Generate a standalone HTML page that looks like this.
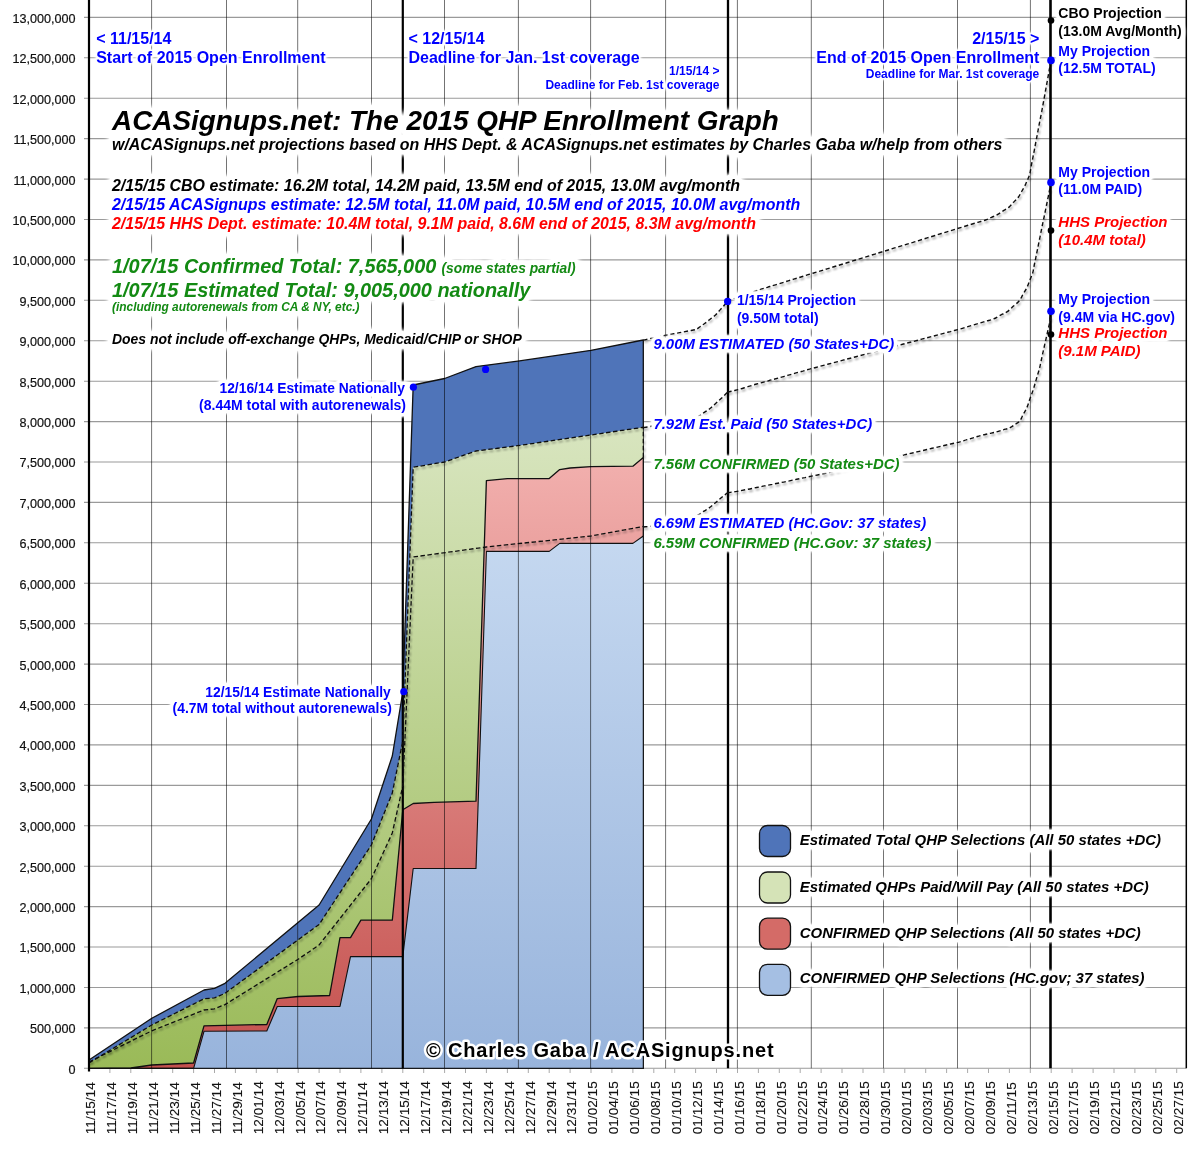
<!DOCTYPE html>
<html><head><meta charset="utf-8"><style>
html,body{margin:0;padding:0;background:#fff;width:1200px;height:1150px;overflow:hidden}
svg{display:block;will-change:transform;font-family:"Liberation Sans",sans-serif}
</style></head><body>
<svg width="1200" height="1150" viewBox="0 0 1200 1150">
<defs>
<linearGradient id="gGreen" gradientUnits="userSpaceOnUse" x1="0" y1="427" x2="0" y2="1068"><stop offset="0" stop-color="#d8e5bf"/><stop offset="1" stop-color="#9aba58"/></linearGradient>
<linearGradient id="gRed" gradientUnits="userSpaceOnUse" x1="0" y1="457" x2="0" y2="1068"><stop offset="0" stop-color="#f2b0ae"/><stop offset="1" stop-color="#c4504d"/></linearGradient>
<linearGradient id="gLBlue" gradientUnits="userSpaceOnUse" x1="0" y1="536" x2="0" y2="1068"><stop offset="0" stop-color="#c5d8f0"/><stop offset="1" stop-color="#98b4dc"/></linearGradient>
<filter id="glowL" x="-3%" y="-10%" width="106%" height="120%"><feGaussianBlur in="SourceAlpha" stdDeviation="2.5" result="b"/><feComponentTransfer in="b" result="a"><feFuncA type="linear" slope="2.0" intercept="0"/></feComponentTransfer><feFlood flood-color="#fff"/><feComposite in2="a" operator="in"/></filter>
<filter id="glowS" x="-3%" y="-20%" width="106%" height="140%"><feGaussianBlur in="SourceAlpha" stdDeviation="1.8" result="b"/><feComponentTransfer in="b" result="a"><feFuncA type="linear" slope="1.9" intercept="0"/></feComponentTransfer><feFlood flood-color="#fff"/><feComposite in2="a" operator="in"/></filter>
<filter id="shadow" x="-5%" y="-5%" width="110%" height="110%"><feGaussianBlur in="SourceAlpha" stdDeviation="1.3" result="b"/><feOffset in="b" dx="1" dy="2" result="o"/><feComponentTransfer in="o" result="oa"><feFuncA type="linear" slope="0.45"/></feComponentTransfer><feMerge><feMergeNode in="oa"/><feMergeNode in="SourceGraphic"/></feMerge></filter>
</defs>
<rect x="0" y="0" width="1200" height="1150" fill="#fff"/>
<line x1="84" y1="1027.9" x2="1186.5" y2="1027.9" stroke="#9a9a9a" stroke-width="1.1"/>
<line x1="84" y1="987.5" x2="1186.5" y2="987.5" stroke="#9a9a9a" stroke-width="1.1"/>
<line x1="84" y1="947" x2="1186.5" y2="947" stroke="#9a9a9a" stroke-width="1.1"/>
<line x1="84" y1="906.6" x2="1186.5" y2="906.6" stroke="#9a9a9a" stroke-width="1.1"/>
<line x1="84" y1="866.2" x2="1186.5" y2="866.2" stroke="#9a9a9a" stroke-width="1.1"/>
<line x1="84" y1="825.8" x2="1186.5" y2="825.8" stroke="#9a9a9a" stroke-width="1.1"/>
<line x1="84" y1="785.4" x2="1186.5" y2="785.4" stroke="#9a9a9a" stroke-width="1.1"/>
<line x1="84" y1="744.9" x2="1186.5" y2="744.9" stroke="#9a9a9a" stroke-width="1.1"/>
<line x1="84" y1="704.5" x2="1186.5" y2="704.5" stroke="#9a9a9a" stroke-width="1.1"/>
<line x1="84" y1="664.1" x2="1186.5" y2="664.1" stroke="#9a9a9a" stroke-width="1.1"/>
<line x1="84" y1="623.7" x2="1186.5" y2="623.7" stroke="#9a9a9a" stroke-width="1.1"/>
<line x1="84" y1="583.3" x2="1186.5" y2="583.3" stroke="#9a9a9a" stroke-width="1.1"/>
<line x1="84" y1="542.8" x2="1186.5" y2="542.8" stroke="#9a9a9a" stroke-width="1.1"/>
<line x1="84" y1="502.4" x2="1186.5" y2="502.4" stroke="#9a9a9a" stroke-width="1.1"/>
<line x1="84" y1="462" x2="1186.5" y2="462" stroke="#9a9a9a" stroke-width="1.1"/>
<line x1="84" y1="421.6" x2="1186.5" y2="421.6" stroke="#9a9a9a" stroke-width="1.1"/>
<line x1="84" y1="381.2" x2="1186.5" y2="381.2" stroke="#9a9a9a" stroke-width="1.1"/>
<line x1="84" y1="340.7" x2="1186.5" y2="340.7" stroke="#9a9a9a" stroke-width="1.1"/>
<line x1="84" y1="300.3" x2="1186.5" y2="300.3" stroke="#9a9a9a" stroke-width="1.1"/>
<line x1="84" y1="259.9" x2="1186.5" y2="259.9" stroke="#9a9a9a" stroke-width="1.1"/>
<line x1="84" y1="219.5" x2="1186.5" y2="219.5" stroke="#9a9a9a" stroke-width="1.1"/>
<line x1="84" y1="179.1" x2="1186.5" y2="179.1" stroke="#9a9a9a" stroke-width="1.1"/>
<line x1="84" y1="138.6" x2="1186.5" y2="138.6" stroke="#9a9a9a" stroke-width="1.1"/>
<line x1="84" y1="98.2" x2="1186.5" y2="98.2" stroke="#9a9a9a" stroke-width="1.1"/>
<line x1="84" y1="57.8" x2="1186.5" y2="57.8" stroke="#9a9a9a" stroke-width="1.1"/>
<line x1="84" y1="17.4" x2="1186.5" y2="17.4" stroke="#9a9a9a" stroke-width="1.1"/>
<line x1="84" y1="1068.3" x2="1186.3" y2="1068.3" stroke="#9a9a9a" stroke-width="1.1"/>
<line x1="109.9" y1="1068.3" x2="109.9" y2="1073" stroke="#aaa" stroke-width="1"/>
<line x1="130.8" y1="1068.3" x2="130.8" y2="1073" stroke="#aaa" stroke-width="1"/>
<line x1="151.8" y1="1068.3" x2="151.8" y2="1073" stroke="#aaa" stroke-width="1"/>
<line x1="172.7" y1="1068.3" x2="172.7" y2="1073" stroke="#aaa" stroke-width="1"/>
<line x1="193.6" y1="1068.3" x2="193.6" y2="1073" stroke="#aaa" stroke-width="1"/>
<line x1="214.5" y1="1068.3" x2="214.5" y2="1073" stroke="#aaa" stroke-width="1"/>
<line x1="235.4" y1="1068.3" x2="235.4" y2="1073" stroke="#aaa" stroke-width="1"/>
<line x1="256.3" y1="1068.3" x2="256.3" y2="1073" stroke="#aaa" stroke-width="1"/>
<line x1="277.3" y1="1068.3" x2="277.3" y2="1073" stroke="#aaa" stroke-width="1"/>
<line x1="298.2" y1="1068.3" x2="298.2" y2="1073" stroke="#aaa" stroke-width="1"/>
<line x1="319.1" y1="1068.3" x2="319.1" y2="1073" stroke="#aaa" stroke-width="1"/>
<line x1="340" y1="1068.3" x2="340" y2="1073" stroke="#aaa" stroke-width="1"/>
<line x1="360.9" y1="1068.3" x2="360.9" y2="1073" stroke="#aaa" stroke-width="1"/>
<line x1="381.9" y1="1068.3" x2="381.9" y2="1073" stroke="#aaa" stroke-width="1"/>
<line x1="402.8" y1="1068.3" x2="402.8" y2="1073" stroke="#aaa" stroke-width="1"/>
<line x1="423.7" y1="1068.3" x2="423.7" y2="1073" stroke="#aaa" stroke-width="1"/>
<line x1="444.6" y1="1068.3" x2="444.6" y2="1073" stroke="#aaa" stroke-width="1"/>
<line x1="465.5" y1="1068.3" x2="465.5" y2="1073" stroke="#aaa" stroke-width="1"/>
<line x1="486.4" y1="1068.3" x2="486.4" y2="1073" stroke="#aaa" stroke-width="1"/>
<line x1="507.4" y1="1068.3" x2="507.4" y2="1073" stroke="#aaa" stroke-width="1"/>
<line x1="528.3" y1="1068.3" x2="528.3" y2="1073" stroke="#aaa" stroke-width="1"/>
<line x1="549.2" y1="1068.3" x2="549.2" y2="1073" stroke="#aaa" stroke-width="1"/>
<line x1="570.1" y1="1068.3" x2="570.1" y2="1073" stroke="#aaa" stroke-width="1"/>
<line x1="591" y1="1068.3" x2="591" y2="1073" stroke="#aaa" stroke-width="1"/>
<line x1="611.9" y1="1068.3" x2="611.9" y2="1073" stroke="#aaa" stroke-width="1"/>
<line x1="632.9" y1="1068.3" x2="632.9" y2="1073" stroke="#aaa" stroke-width="1"/>
<line x1="653.8" y1="1068.3" x2="653.8" y2="1073" stroke="#aaa" stroke-width="1"/>
<line x1="674.7" y1="1068.3" x2="674.7" y2="1073" stroke="#aaa" stroke-width="1"/>
<line x1="695.6" y1="1068.3" x2="695.6" y2="1073" stroke="#aaa" stroke-width="1"/>
<line x1="716.5" y1="1068.3" x2="716.5" y2="1073" stroke="#aaa" stroke-width="1"/>
<line x1="737.5" y1="1068.3" x2="737.5" y2="1073" stroke="#aaa" stroke-width="1"/>
<line x1="758.4" y1="1068.3" x2="758.4" y2="1073" stroke="#aaa" stroke-width="1"/>
<line x1="779.3" y1="1068.3" x2="779.3" y2="1073" stroke="#aaa" stroke-width="1"/>
<line x1="800.2" y1="1068.3" x2="800.2" y2="1073" stroke="#aaa" stroke-width="1"/>
<line x1="821.1" y1="1068.3" x2="821.1" y2="1073" stroke="#aaa" stroke-width="1"/>
<line x1="842" y1="1068.3" x2="842" y2="1073" stroke="#aaa" stroke-width="1"/>
<line x1="863" y1="1068.3" x2="863" y2="1073" stroke="#aaa" stroke-width="1"/>
<line x1="883.9" y1="1068.3" x2="883.9" y2="1073" stroke="#aaa" stroke-width="1"/>
<line x1="904.8" y1="1068.3" x2="904.8" y2="1073" stroke="#aaa" stroke-width="1"/>
<line x1="925.7" y1="1068.3" x2="925.7" y2="1073" stroke="#aaa" stroke-width="1"/>
<line x1="946.6" y1="1068.3" x2="946.6" y2="1073" stroke="#aaa" stroke-width="1"/>
<line x1="967.6" y1="1068.3" x2="967.6" y2="1073" stroke="#aaa" stroke-width="1"/>
<line x1="988.5" y1="1068.3" x2="988.5" y2="1073" stroke="#aaa" stroke-width="1"/>
<line x1="1009.4" y1="1068.3" x2="1009.4" y2="1073" stroke="#aaa" stroke-width="1"/>
<line x1="1030.3" y1="1068.3" x2="1030.3" y2="1073" stroke="#aaa" stroke-width="1"/>
<line x1="1051.2" y1="1068.3" x2="1051.2" y2="1073" stroke="#aaa" stroke-width="1"/>
<line x1="1072.1" y1="1068.3" x2="1072.1" y2="1073" stroke="#aaa" stroke-width="1"/>
<line x1="1093.1" y1="1068.3" x2="1093.1" y2="1073" stroke="#aaa" stroke-width="1"/>
<line x1="1114" y1="1068.3" x2="1114" y2="1073" stroke="#aaa" stroke-width="1"/>
<line x1="1134.9" y1="1068.3" x2="1134.9" y2="1073" stroke="#aaa" stroke-width="1"/>
<line x1="1155.8" y1="1068.3" x2="1155.8" y2="1073" stroke="#aaa" stroke-width="1"/>
<line x1="1176.7" y1="1068.3" x2="1176.7" y2="1073" stroke="#aaa" stroke-width="1"/>
<polygon points="89,1060 151.8,1018.3 204,990 214.5,988.3 225,983.3 319.1,905 371.4,819 392.3,756 402.8,692 413.2,385 444.6,378.5 476,366.6 517.8,361.2 591,350.3 643.3,340 643.3,1068.3 89,1068.3" fill="#4f74b9" stroke="#111" stroke-width="1.3" stroke-linejoin="round"/>
<polygon points="89,1063 151.8,1025 204,998.8 214.5,997.9 225,993.3 319.1,924.5 371.4,845 392.3,793 402.8,741 413.2,467.3 444.6,462 476,451 517.8,445.7 643.3,427.3 643.3,1068.3 89,1068.3" fill="url(#gGreen)"/>
<polygon points="89,1068.3 130.8,1068 151.8,1065 172.7,1064 193.6,1063 204,1025.8 266.8,1024.5 277.3,998.6 298.2,996.5 329.6,995.5 340,937.6 350.5,937.6 360.9,920.2 392.3,920.2 402.8,809.7 413.2,803.5 434.1,802.4 476,801.2 486.4,480.6 507.4,478.6 549.2,478.6 559.7,469.6 570.1,468 591,466.6 632.9,466.2 643.3,457.6 643.3,1068.3 89,1068.3" fill="url(#gRed)" stroke="#111" stroke-width="1.3" stroke-linejoin="round"/>
<polygon points="89,1068.3 193.6,1068.3 204,1031.3 266.8,1031 277.3,1006.5 340,1006.4 350.5,956.6 402.8,956.6 413.2,868.5 476,868.5 486.4,551.4 549.2,551.4 559.7,543.4 632.9,543.4 643.3,536 643.3,1068.3 89,1068.3" fill="url(#gLBlue)" stroke="#111" stroke-width="1.1" stroke-linejoin="round"/>
<line x1="151.6" y1="0" x2="151.6" y2="1068.3" stroke="#000" stroke-opacity="0.55" stroke-width="1"/>
<line x1="226.5" y1="0" x2="226.5" y2="1068.3" stroke="#000" stroke-opacity="0.55" stroke-width="1"/>
<line x1="297.7" y1="0" x2="297.7" y2="1068.3" stroke="#000" stroke-opacity="0.55" stroke-width="1"/>
<line x1="371.5" y1="0" x2="371.5" y2="1068.3" stroke="#000" stroke-opacity="0.55" stroke-width="1"/>
<line x1="444.5" y1="0" x2="444.5" y2="1068.3" stroke="#000" stroke-opacity="0.55" stroke-width="1"/>
<line x1="518.4" y1="0" x2="518.4" y2="1068.3" stroke="#000" stroke-opacity="0.55" stroke-width="1"/>
<line x1="590.6" y1="0" x2="590.6" y2="1068.3" stroke="#000" stroke-opacity="0.55" stroke-width="1"/>
<line x1="665.6" y1="0" x2="665.6" y2="1068.3" stroke="#000" stroke-opacity="0.55" stroke-width="1"/>
<line x1="737.4" y1="0" x2="737.4" y2="1068.3" stroke="#000" stroke-opacity="0.55" stroke-width="1"/>
<line x1="811.3" y1="0" x2="811.3" y2="1068.3" stroke="#000" stroke-opacity="0.55" stroke-width="1"/>
<line x1="883.5" y1="0" x2="883.5" y2="1068.3" stroke="#000" stroke-opacity="0.55" stroke-width="1"/>
<line x1="957.5" y1="0" x2="957.5" y2="1068.3" stroke="#000" stroke-opacity="0.55" stroke-width="1"/>
<line x1="1030.4" y1="0" x2="1030.4" y2="1068.3" stroke="#000" stroke-opacity="0.55" stroke-width="1"/>
<line x1="1186.3" y1="0" x2="1186.3" y2="1068.3" stroke="#000" stroke-width="1.5"/>
<line x1="402.8" y1="0" x2="402.8" y2="1068.3" stroke="#000" stroke-width="2.2"/>
<line x1="728" y1="0" x2="728" y2="1068.3" stroke="#000" stroke-width="2.3"/>
<line x1="1050.5" y1="0" x2="1050.5" y2="1068.3" stroke="#000" stroke-width="2.6"/>
<g filter="url(#shadow)">
<path d="M89,1063 L151.8,1025 L204,998.8 L214.5,997.9 L225,993.3 L319.1,924.5 L371.4,845 L392.3,793 L402.8,741 L413.2,467.3 L444.6,462 L476,451 L517.8,445.7 L643.3,427.3 L643.3,457.6" fill="none" stroke="#111" stroke-width="1.3" stroke-dasharray="4.5,2.5"/>
<path d="M89,1062 L151.8,1030.8 L204,1010 L214.5,1008.8 L225,1004.6 L298.2,959.2 L319.1,945 L371.4,878.7 L392.3,833 L402.8,786 L413.2,557 L486.4,547 L591,536 L643.3,526.4" fill="none" stroke="#111" stroke-width="1.3" stroke-dasharray="4.5,2.5"/>
<path d="M643.3,340.1 C645.8,339.6 648.3,339 650.9,338.5 C653.4,338 655.9,337.4 658.4,336.9 C661,336.4 663.5,335.8 666,335.3 C668.5,334.8 671.1,334.3 673.6,333.8 C676.1,333.3 678.7,332.9 681.2,332.4 C683.7,331.9 686.3,331.4 688.8,330.9 C691.3,330.4 694.2,330.2 696.3,329.3 C698,328.6 699.2,327.3 700.6,326.3 C702.1,325.3 703.5,324.4 705,323.3 C706.7,322 708.6,320.4 710.4,319 C712.2,317.6 714.2,316.3 715.8,314.7 C717.4,313.2 718.7,311.5 720.1,309.9 C721.6,308.2 723.3,306.6 724.5,305 C725.6,303.7 726.3,302.4 727.2,301.1" fill="none" stroke="#111" stroke-width="1.4" stroke-dasharray="4.2,2.7"/>
<path d="M727.2,301.1 C729.9,300.2 732.5,299.2 735.2,298.3 C737.9,297.3 740.5,296.4 743.2,295.5 C745.9,294.5 748.5,293.6 751.2,292.6 C753.9,291.7 756.8,290.6 759.2,289.8 C761.2,289.2 762.8,288.7 764.6,288.1 C766.4,287.6 767.9,287.1 770,286.5 C772.7,285.7 776.3,284.5 779.5,283.6 C782.7,282.6 785.9,281.6 789,280.6 C792.2,279.6 795.4,278.7 798.6,277.7 C801.7,276.7 804.9,275.7 808.1,274.7 C811.3,273.7 814.4,272.8 817.6,271.8 C820.8,270.8 824,269.8 827.1,268.8 C830.3,267.9 833.5,266.9 836.7,265.9 C839.8,264.9 843,263.9 846.2,263 C849.4,262 852.5,261 855.7,260 C858.9,259 862.1,258.1 865.2,257.1 C868.4,256.1 871.6,255.1 874.8,254.1 C877.9,253.1 881.1,252.2 884.3,251.2 C887.5,250.2 890.6,249.2 893.8,248.2 C897,247.3 900.2,246.3 903.3,245.3 C906.5,244.3 909.7,243.3 912.9,242.4 C916,241.4 919.2,240.4 922.4,239.4 C925.6,238.4 928.7,237.5 931.9,236.5 C935.1,235.5 938.3,234.5 941.4,233.5 C944.6,232.5 947.8,231.6 951,230.6 C954.1,229.6 957.3,228.6 960.5,227.6 C963.7,226.7 967,225.6 970,224.7 C972.7,223.9 975.2,223.1 977.8,222.3 C980.4,221.6 983.2,220.9 985.6,220 C987.7,219.2 989.5,218.2 991.5,217.3 C993.5,216.4 995.5,215.7 997.4,214.6 C999.4,213.5 1001.3,212.1 1003.2,210.8 C1005.2,209.6 1007.3,208.6 1009.1,207.1 C1010.9,205.6 1012.2,203.7 1013.8,202.1 C1015.4,200.4 1017.2,198.8 1018.5,197 C1019.8,195.3 1020.6,193.3 1021.6,191.5 C1022.7,189.7 1023.9,187.9 1024.8,186 C1025.7,184.2 1026.4,182.3 1027.2,180.5 C1027.9,178.7 1028.9,177.1 1029.5,175 C1030.3,172.4 1030.7,169 1031.2,166 C1031.8,163 1032.4,160 1033,157 C1033.6,154 1034.2,150.9 1034.8,147.8 C1035.3,144.8 1035.9,141.7 1036.5,138.7 C1037.1,135.6 1037.7,132.6 1038.2,129.5 C1038.8,126.4 1039.4,123.4 1040,120.3 C1040.6,117.3 1041.2,114.2 1041.8,111.2 C1042.3,108.1 1042.9,105 1043.5,102 C1044,99.2 1044.5,96.5 1045,93.7 C1045.5,90.9 1046,88.1 1046.5,85.4 C1047,82.6 1047.5,79.8 1048,77 C1048.5,74.3 1049,71.5 1049.5,68.7 C1050,65.9 1050.5,63.2 1051,60.4" fill="none" stroke="#111" stroke-width="1.4" stroke-dasharray="4.2,2.7"/>
<path d="M643.3,427.6 C646.5,427.1 649.8,426.6 652.8,426 C655.6,425.5 658.2,424.9 660.8,424.4 C663.5,423.9 666.2,423.3 668.9,422.8 C671.6,422.3 674.3,421.7 677,421.2 C679.6,420.7 682.5,420.1 685,419.6 C687.2,419.2 689.1,418.8 691.1,418.5 C693.1,418.1 695.2,418.1 697.2,417.3 C699.4,416.4 701.5,414.4 703.6,412.9 C705.7,411.4 708,410.1 710,408.5 C712,406.9 713.9,405 715.9,403.2 C717.8,401.5 719.8,399.8 721.7,398 C723.7,396.1 725.6,394.1 727.5,392.2" fill="none" stroke="#111" stroke-width="1.4" stroke-dasharray="4.2,2.7"/>
<path d="M727.5,392.2 C729.5,391.7 731.4,391.2 733.4,390.8 C735.3,390.3 737.1,389.9 739.2,389.3 C741.8,388.6 745,387.5 748,386.6 C750.9,385.8 753.9,384.8 756.7,384 C759.4,383.2 761.9,382.6 764.5,381.9 C767.1,381.2 769.6,380.4 772.2,379.7 C774.8,379 777.4,378.3 780,377.6 C782.5,376.9 785.1,376.2 787.6,375.4 C790.1,374.7 792.7,374 795.2,373.2 C797.7,372.5 800.3,371.8 802.8,371.1 C805.3,370.3 807.7,369.6 810.4,368.9 C813.3,368.1 816.5,367.3 819.5,366.5 C822.6,365.6 825.6,364.8 828.6,364 C831.7,363.2 834.7,362.4 837.8,361.6 C840.8,360.8 843.9,360 846.9,359.1 C849.9,358.3 853,357.5 856,356.7 C859.1,355.9 862.1,355.1 865.1,354.3 C868.2,353.5 871.2,352.6 874.3,351.8 C877.3,351 880.3,350.2 883.4,349.4 C886.6,348.6 889.8,347.7 893,346.8 C896.2,346 899.4,345.1 902.5,344.3 C905.7,343.4 908.9,342.6 912.1,341.8 C915.3,340.9 918.5,340.1 921.7,339.2 C924.9,338.3 928.1,337.5 931.3,336.6 C934.5,335.8 937.7,335 940.9,334.1 C944,333.3 947.2,332.4 950.4,331.6 C953.6,330.7 956.8,329.9 960,329 C963.2,328.1 966.4,327.1 969.5,326.1 C972.7,325.2 976.1,324.2 979.1,323.3 C981.7,322.5 983.9,321.9 986.3,321.1 C988.7,320.4 991.2,320 993.5,319 C995.9,318 998.3,316.4 1000.6,315.1 C1003,313.9 1005.6,312.8 1007.8,311.3 C1009.9,309.8 1011.6,307.8 1013.5,306.1 C1015.5,304.3 1017.7,302.8 1019.3,300.8 C1020.9,298.8 1021.9,296.3 1023.1,294.1 C1024.4,291.9 1025.9,289.7 1027,287.4 C1028.1,285.1 1028.9,282.6 1029.8,280.2 C1030.8,277.8 1031.9,275.5 1032.7,273 C1033.5,270.3 1033.8,267.3 1034.4,264.5 C1035,261.7 1035.6,258.8 1036.1,256 C1036.7,253.2 1037.3,250.3 1037.9,247.5 C1038.4,244.7 1039,241.8 1039.6,239 C1040.2,236.2 1040.7,233.2 1041.3,230.5 C1041.8,228 1042.3,225.7 1042.8,223.2 C1043.3,220.8 1043.8,218.5 1044.3,216 C1044.8,213.5 1045.3,210.9 1045.9,208.3 C1046.4,205.8 1046.9,203.2 1047.4,200.7 C1048,198.1 1048.5,195.3 1049,193 C1049.4,191 1049.7,189.4 1050.1,187.6 C1050.5,185.7 1050.8,183.9 1051.2,182.1" fill="none" stroke="#111" stroke-width="1.4" stroke-dasharray="4.2,2.7"/>
<path d="M643.3,527 C646.1,526.7 648.9,526.5 651.7,526 C654.5,525.5 657.3,524.7 660,524 C662.8,523.3 665.6,522.7 668.4,522 C671.1,521.3 673.9,520.7 676.7,520 C679.4,519.3 682.4,518.6 685,518 C687.2,517.5 689.1,517.2 691.1,516.8 C693.1,516.3 695.2,516.3 697.2,515.5 C699.4,514.6 701.5,512.8 703.6,511.4 C705.7,510 708,508.8 710,507.3 C712,505.8 713.9,504 715.9,502.4 C717.8,500.7 719.7,499 721.7,497.4 C723.6,495.8 725.6,494.3 727.5,492.8" fill="none" stroke="#111" stroke-width="1.4" stroke-dasharray="4.2,2.7"/>
<path d="M727.5,492.8 C729.5,492.5 731.4,492.2 733.4,491.9 C735.3,491.6 737.1,491.4 739.2,491 C741.8,490.5 745,489.8 748,489.2 C750.9,488.7 753.9,488.1 756.7,487.5 C759.4,487 761.9,486.5 764.5,485.9 C767.1,485.4 769.6,484.9 772.2,484.4 C774.8,483.8 777.4,483.3 780,482.8 C782.7,482.2 785.5,481.6 788.3,481.1 C791.1,480.5 793.9,479.9 796.6,479.3 C799.4,478.7 802.2,478.1 805,477.6 C807.7,477 810.5,476.4 813.3,475.8 C816,475.2 818.8,474.6 821.6,474.1 C824.4,473.5 827.1,472.9 829.9,472.3 C832.9,471.6 836.1,470.8 839.2,470.1 C842.3,469.4 845.4,468.7 848.5,467.9 C851.6,467.2 854.7,466.5 857.8,465.8 C860.9,465 864,464.3 867.1,463.6 C870.2,462.9 873.3,462.1 876.4,461.4 C879.5,460.7 882.6,460 885.7,459.2 C888.8,458.5 891.9,457.8 895,457.1 C898,456.3 901.1,455.6 904.2,454.9 C907.3,454.1 910.4,453.4 913.5,452.7 C916.6,452 919.7,451.2 922.8,450.5 C925.9,449.8 929,449.1 932.1,448.3 C935.2,447.6 938.3,446.9 941.4,446.2 C944.5,445.4 947.6,444.7 950.7,444 C953.8,443.3 957.1,442.6 960,441.8 C962.5,441.1 964.6,440.4 967,439.7 C969.3,439 971.6,438.3 973.9,437.6 C976.3,436.9 978.5,436.1 980.9,435.5 C983.4,434.8 986.1,434.3 988.7,433.7 C991.3,433.1 994,432.6 996.5,431.9 C998.9,431.3 1001,430.5 1003.3,429.8 C1005.6,429.1 1008.1,428.7 1010.1,427.7 C1011.9,426.9 1013.2,425.6 1014.8,424.5 C1016.4,423.5 1018.2,422.9 1019.5,421.4 C1021,419.7 1021.9,416.9 1023.1,414.6 C1024.4,412.3 1025.7,410.3 1026.8,407.8 C1028,405.1 1028.9,401.9 1029.9,399 C1031,396 1032.2,392.9 1033.1,390.1 C1033.9,387.7 1034.5,385.5 1035.2,383.1 C1035.9,380.8 1036.5,378.5 1037.2,376.2 C1037.9,373.8 1038.7,371.6 1039.3,369.2 C1040,366.6 1040.5,363.9 1041.1,361.2 C1041.7,358.5 1042.2,355.9 1042.8,353.2 C1043.4,350.5 1044,347.9 1044.6,345.2 C1045.2,342.5 1045.8,339.8 1046.4,337.1 C1047,334.4 1047.6,331.8 1048.2,329.1 C1048.8,326.4 1049.5,323.8 1050,321 C1050.5,317.9 1050.7,314.5 1051,311.2" fill="none" stroke="#111" stroke-width="1.4" stroke-dasharray="4.2,2.7"/>
</g>
<line x1="89" y1="0" x2="89" y2="1071.5" stroke="#000" stroke-width="2.2"/>
<text x="75.5" y="1073.7" text-anchor="end" font-size="12.6" fill="#111" stroke="#111" stroke-width="0.2">0</text>
<text x="75.5" y="1033.3" text-anchor="end" font-size="12.6" fill="#111" stroke="#111" stroke-width="0.2">500,000</text>
<text x="75.5" y="992.9" text-anchor="end" font-size="12.6" fill="#111" stroke="#111" stroke-width="0.2">1,000,000</text>
<text x="75.5" y="952.4" text-anchor="end" font-size="12.6" fill="#111" stroke="#111" stroke-width="0.2">1,500,000</text>
<text x="75.5" y="912" text-anchor="end" font-size="12.6" fill="#111" stroke="#111" stroke-width="0.2">2,000,000</text>
<text x="75.5" y="871.6" text-anchor="end" font-size="12.6" fill="#111" stroke="#111" stroke-width="0.2">2,500,000</text>
<text x="75.5" y="831.2" text-anchor="end" font-size="12.6" fill="#111" stroke="#111" stroke-width="0.2">3,000,000</text>
<text x="75.5" y="790.8" text-anchor="end" font-size="12.6" fill="#111" stroke="#111" stroke-width="0.2">3,500,000</text>
<text x="75.5" y="750.3" text-anchor="end" font-size="12.6" fill="#111" stroke="#111" stroke-width="0.2">4,000,000</text>
<text x="75.5" y="709.9" text-anchor="end" font-size="12.6" fill="#111" stroke="#111" stroke-width="0.2">4,500,000</text>
<text x="75.5" y="669.5" text-anchor="end" font-size="12.6" fill="#111" stroke="#111" stroke-width="0.2">5,000,000</text>
<text x="75.5" y="629.1" text-anchor="end" font-size="12.6" fill="#111" stroke="#111" stroke-width="0.2">5,500,000</text>
<text x="75.5" y="588.7" text-anchor="end" font-size="12.6" fill="#111" stroke="#111" stroke-width="0.2">6,000,000</text>
<text x="75.5" y="548.2" text-anchor="end" font-size="12.6" fill="#111" stroke="#111" stroke-width="0.2">6,500,000</text>
<text x="75.5" y="507.8" text-anchor="end" font-size="12.6" fill="#111" stroke="#111" stroke-width="0.2">7,000,000</text>
<text x="75.5" y="467.4" text-anchor="end" font-size="12.6" fill="#111" stroke="#111" stroke-width="0.2">7,500,000</text>
<text x="75.5" y="427" text-anchor="end" font-size="12.6" fill="#111" stroke="#111" stroke-width="0.2">8,000,000</text>
<text x="75.5" y="386.6" text-anchor="end" font-size="12.6" fill="#111" stroke="#111" stroke-width="0.2">8,500,000</text>
<text x="75.5" y="346.1" text-anchor="end" font-size="12.6" fill="#111" stroke="#111" stroke-width="0.2">9,000,000</text>
<text x="75.5" y="305.7" text-anchor="end" font-size="12.6" fill="#111" stroke="#111" stroke-width="0.2">9,500,000</text>
<text x="75.5" y="265.3" text-anchor="end" font-size="12.6" fill="#111" stroke="#111" stroke-width="0.2">10,000,000</text>
<text x="75.5" y="224.9" text-anchor="end" font-size="12.6" fill="#111" stroke="#111" stroke-width="0.2">10,500,000</text>
<text x="75.5" y="184.5" text-anchor="end" font-size="12.6" fill="#111" stroke="#111" stroke-width="0.2">11,000,000</text>
<text x="75.5" y="144" text-anchor="end" font-size="12.6" fill="#111" stroke="#111" stroke-width="0.2">11,500,000</text>
<text x="75.5" y="103.6" text-anchor="end" font-size="12.6" fill="#111" stroke="#111" stroke-width="0.2">12,000,000</text>
<text x="75.5" y="63.2" text-anchor="end" font-size="12.6" fill="#111" stroke="#111" stroke-width="0.2">12,500,000</text>
<text x="75.5" y="22.8" text-anchor="end" font-size="12.6" fill="#111" stroke="#111" stroke-width="0.2">13,000,000</text>
<text transform="translate(95.3,1134.2) rotate(-90)" font-size="13.6" fill="#111" stroke="#111" stroke-width="0.12">11/15/14</text>
<text transform="translate(116.2,1134.2) rotate(-90)" font-size="13.6" fill="#111" stroke="#111" stroke-width="0.12">11/17/14</text>
<text transform="translate(137.1,1134.2) rotate(-90)" font-size="13.6" fill="#111" stroke="#111" stroke-width="0.12">11/19/14</text>
<text transform="translate(158.1,1134.2) rotate(-90)" font-size="13.6" fill="#111" stroke="#111" stroke-width="0.12">11/21/14</text>
<text transform="translate(179,1134.2) rotate(-90)" font-size="13.6" fill="#111" stroke="#111" stroke-width="0.12">11/23/14</text>
<text transform="translate(199.9,1134.2) rotate(-90)" font-size="13.6" fill="#111" stroke="#111" stroke-width="0.12">11/25/14</text>
<text transform="translate(220.8,1134.2) rotate(-90)" font-size="13.6" fill="#111" stroke="#111" stroke-width="0.12">11/27/14</text>
<text transform="translate(241.7,1134.2) rotate(-90)" font-size="13.6" fill="#111" stroke="#111" stroke-width="0.12">11/29/14</text>
<text transform="translate(262.6,1134.2) rotate(-90)" font-size="13.6" fill="#111" stroke="#111" stroke-width="0.12">12/01/14</text>
<text transform="translate(283.6,1134.2) rotate(-90)" font-size="13.6" fill="#111" stroke="#111" stroke-width="0.12">12/03/14</text>
<text transform="translate(304.5,1134.2) rotate(-90)" font-size="13.6" fill="#111" stroke="#111" stroke-width="0.12">12/05/14</text>
<text transform="translate(325.4,1134.2) rotate(-90)" font-size="13.6" fill="#111" stroke="#111" stroke-width="0.12">12/07/14</text>
<text transform="translate(346.3,1134.2) rotate(-90)" font-size="13.6" fill="#111" stroke="#111" stroke-width="0.12">12/09/14</text>
<text transform="translate(367.2,1134.2) rotate(-90)" font-size="13.6" fill="#111" stroke="#111" stroke-width="0.12">12/11/14</text>
<text transform="translate(388.2,1134.2) rotate(-90)" font-size="13.6" fill="#111" stroke="#111" stroke-width="0.12">12/13/14</text>
<text transform="translate(409.1,1134.2) rotate(-90)" font-size="13.6" fill="#111" stroke="#111" stroke-width="0.12">12/15/14</text>
<text transform="translate(430,1134.2) rotate(-90)" font-size="13.6" fill="#111" stroke="#111" stroke-width="0.12">12/17/14</text>
<text transform="translate(450.9,1134.2) rotate(-90)" font-size="13.6" fill="#111" stroke="#111" stroke-width="0.12">12/19/14</text>
<text transform="translate(471.8,1134.2) rotate(-90)" font-size="13.6" fill="#111" stroke="#111" stroke-width="0.12">12/21/14</text>
<text transform="translate(492.7,1134.2) rotate(-90)" font-size="13.6" fill="#111" stroke="#111" stroke-width="0.12">12/23/14</text>
<text transform="translate(513.7,1134.2) rotate(-90)" font-size="13.6" fill="#111" stroke="#111" stroke-width="0.12">12/25/14</text>
<text transform="translate(534.6,1134.2) rotate(-90)" font-size="13.6" fill="#111" stroke="#111" stroke-width="0.12">12/27/14</text>
<text transform="translate(555.5,1134.2) rotate(-90)" font-size="13.6" fill="#111" stroke="#111" stroke-width="0.12">12/29/14</text>
<text transform="translate(576.4,1134.2) rotate(-90)" font-size="13.6" fill="#111" stroke="#111" stroke-width="0.12">12/31/14</text>
<text transform="translate(597.3,1134.2) rotate(-90)" font-size="13.6" fill="#111" stroke="#111" stroke-width="0.12">01/02/15</text>
<text transform="translate(618.2,1134.2) rotate(-90)" font-size="13.6" fill="#111" stroke="#111" stroke-width="0.12">01/04/15</text>
<text transform="translate(639.2,1134.2) rotate(-90)" font-size="13.6" fill="#111" stroke="#111" stroke-width="0.12">01/06/15</text>
<text transform="translate(660.1,1134.2) rotate(-90)" font-size="13.6" fill="#111" stroke="#111" stroke-width="0.12">01/08/15</text>
<text transform="translate(681,1134.2) rotate(-90)" font-size="13.6" fill="#111" stroke="#111" stroke-width="0.12">01/10/15</text>
<text transform="translate(701.9,1134.2) rotate(-90)" font-size="13.6" fill="#111" stroke="#111" stroke-width="0.12">01/12/15</text>
<text transform="translate(722.8,1134.2) rotate(-90)" font-size="13.6" fill="#111" stroke="#111" stroke-width="0.12">01/14/15</text>
<text transform="translate(743.8,1134.2) rotate(-90)" font-size="13.6" fill="#111" stroke="#111" stroke-width="0.12">01/16/15</text>
<text transform="translate(764.7,1134.2) rotate(-90)" font-size="13.6" fill="#111" stroke="#111" stroke-width="0.12">01/18/15</text>
<text transform="translate(785.6,1134.2) rotate(-90)" font-size="13.6" fill="#111" stroke="#111" stroke-width="0.12">01/20/15</text>
<text transform="translate(806.5,1134.2) rotate(-90)" font-size="13.6" fill="#111" stroke="#111" stroke-width="0.12">01/22/15</text>
<text transform="translate(827.4,1134.2) rotate(-90)" font-size="13.6" fill="#111" stroke="#111" stroke-width="0.12">01/24/15</text>
<text transform="translate(848.3,1134.2) rotate(-90)" font-size="13.6" fill="#111" stroke="#111" stroke-width="0.12">01/26/15</text>
<text transform="translate(869.3,1134.2) rotate(-90)" font-size="13.6" fill="#111" stroke="#111" stroke-width="0.12">01/28/15</text>
<text transform="translate(890.2,1134.2) rotate(-90)" font-size="13.6" fill="#111" stroke="#111" stroke-width="0.12">01/30/15</text>
<text transform="translate(911.1,1134.2) rotate(-90)" font-size="13.6" fill="#111" stroke="#111" stroke-width="0.12">02/01/15</text>
<text transform="translate(932,1134.2) rotate(-90)" font-size="13.6" fill="#111" stroke="#111" stroke-width="0.12">02/03/15</text>
<text transform="translate(952.9,1134.2) rotate(-90)" font-size="13.6" fill="#111" stroke="#111" stroke-width="0.12">02/05/15</text>
<text transform="translate(973.9,1134.2) rotate(-90)" font-size="13.6" fill="#111" stroke="#111" stroke-width="0.12">02/07/15</text>
<text transform="translate(994.8,1134.2) rotate(-90)" font-size="13.6" fill="#111" stroke="#111" stroke-width="0.12">02/09/15</text>
<text transform="translate(1015.7,1134.2) rotate(-90)" font-size="13.6" fill="#111" stroke="#111" stroke-width="0.12">02/11/15</text>
<text transform="translate(1036.6,1134.2) rotate(-90)" font-size="13.6" fill="#111" stroke="#111" stroke-width="0.12">02/13/15</text>
<text transform="translate(1057.5,1134.2) rotate(-90)" font-size="13.6" fill="#111" stroke="#111" stroke-width="0.12">02/15/15</text>
<text transform="translate(1078.4,1134.2) rotate(-90)" font-size="13.6" fill="#111" stroke="#111" stroke-width="0.12">02/17/15</text>
<text transform="translate(1099.4,1134.2) rotate(-90)" font-size="13.6" fill="#111" stroke="#111" stroke-width="0.12">02/19/15</text>
<text transform="translate(1120.3,1134.2) rotate(-90)" font-size="13.6" fill="#111" stroke="#111" stroke-width="0.12">02/21/15</text>
<text transform="translate(1141.2,1134.2) rotate(-90)" font-size="13.6" fill="#111" stroke="#111" stroke-width="0.12">02/23/15</text>
<text transform="translate(1162.1,1134.2) rotate(-90)" font-size="13.6" fill="#111" stroke="#111" stroke-width="0.12">02/25/15</text>
<text transform="translate(1183,1134.2) rotate(-90)" font-size="13.6" fill="#111" stroke="#111" stroke-width="0.12">02/27/15</text>
<rect x="759.5" y="825.5" width="31" height="31" rx="8" ry="8" fill="#4f74b9" stroke="#111" stroke-width="1.3"/>
<rect x="759.5" y="872" width="31" height="31" rx="8" ry="8" fill="#d5e3b7" stroke="#111" stroke-width="1.3"/>
<rect x="759.5" y="918.2" width="31" height="31" rx="8" ry="8" fill="#d46b67" stroke="#111" stroke-width="1.3"/>
<rect x="759.5" y="964.3" width="31" height="31" rx="8" ry="8" fill="#a5bfe3" stroke="#111" stroke-width="1.3"/>
<g filter="url(#glowL)"><text x="112" y="130.4" font-size="27.9" font-weight="bold" font-style="italic" text-anchor="start" fill="#fff" stroke="#fff" stroke-width="9" stroke-linejoin="round">ACASignups.net: The 2015 QHP Enrollment Graph</text><text x="112" y="149.8" font-size="15.95" font-weight="bold" font-style="italic" text-anchor="start" fill="#fff" stroke="#fff" stroke-width="9" stroke-linejoin="round">w/ACASignups.net projections based on HHS Dept. &amp; ACASignups.net estimates by Charles Gaba w/help from others</text><text x="112" y="190.8" font-size="15.94" font-weight="bold" font-style="italic" text-anchor="start" fill="#fff" stroke="#fff" stroke-width="9" stroke-linejoin="round">2/15/15 CBO estimate: 16.2M total, 14.2M paid, 13.5M end of 2015, 13.0M avg/month</text><text x="112" y="209.7" font-size="15.94" font-weight="bold" font-style="italic" text-anchor="start" fill="#fff" stroke="#fff" stroke-width="9" stroke-linejoin="round">2/15/15 ACASignups estimate: 12.5M total, 11.0M paid, 10.5M end of 2015, 10.0M avg/month</text><text x="112" y="228.6" font-size="15.94" font-weight="bold" font-style="italic" text-anchor="start" fill="#fff" stroke="#fff" stroke-width="9" stroke-linejoin="round">2/15/15 HHS Dept. estimate: 10.4M total, 9.1M paid, 8.6M end of 2015, 8.3M avg/month</text><text x="112" y="272.8" font-size="19.9" font-weight="bold" font-style="italic" text-anchor="start" fill="#fff" stroke="#fff" stroke-width="9" stroke-linejoin="round">1/07/15 Confirmed Total: 7,565,000</text><text x="441.5" y="272.8" font-size="13.8" font-weight="bold" font-style="italic" text-anchor="start" fill="#fff" stroke="#fff" stroke-width="9" stroke-linejoin="round">(some states partial)</text><text x="112" y="296.8" font-size="19.9" font-weight="bold" font-style="italic" text-anchor="start" fill="#fff" stroke="#fff" stroke-width="9" stroke-linejoin="round">1/07/15 Estimated Total: 9,005,000 nationally</text><text x="112" y="310.6" font-size="11.9" font-weight="bold" font-style="italic" text-anchor="start" fill="#fff" stroke="#fff" stroke-width="9" stroke-linejoin="round">(including autorenewals from CA &amp; NY, etc.)</text><text x="112" y="344.4" font-size="13.95" font-weight="bold" font-style="italic" text-anchor="start" fill="#fff" stroke="#fff" stroke-width="9" stroke-linejoin="round">Does not include off-exchange QHPs, Medicaid/CHIP or SHOP</text></g>
<g filter="url(#glowS)"><text x="1058.3" y="17.5" font-size="14" font-weight="bold" font-style="normal" text-anchor="start" fill="#fff" stroke="#fff" stroke-width="6.5" stroke-linejoin="round">CBO Projection</text><text x="1058.3" y="35.8" font-size="14" font-weight="bold" font-style="normal" text-anchor="start" fill="#fff" stroke="#fff" stroke-width="6.5" stroke-linejoin="round">(13.0M Avg/Month)</text><text x="1058.3" y="55.8" font-size="14" font-weight="bold" font-style="normal" text-anchor="start" fill="#fff" stroke="#fff" stroke-width="6.5" stroke-linejoin="round">My Projection</text><text x="1058.3" y="72.5" font-size="14" font-weight="bold" font-style="normal" text-anchor="start" fill="#fff" stroke="#fff" stroke-width="6.5" stroke-linejoin="round">(12.5M TOTAL)</text><text x="1058.3" y="177.2" font-size="14" font-weight="bold" font-style="normal" text-anchor="start" fill="#fff" stroke="#fff" stroke-width="6.5" stroke-linejoin="round">My Projection</text><text x="1058.3" y="193.5" font-size="14" font-weight="bold" font-style="normal" text-anchor="start" fill="#fff" stroke="#fff" stroke-width="6.5" stroke-linejoin="round">(11.0M PAID)</text><text x="1058.3" y="226.7" font-size="15" font-weight="bold" font-style="italic" text-anchor="start" fill="#fff" stroke="#fff" stroke-width="6.5" stroke-linejoin="round">HHS Projection</text><text x="1058.3" y="244.6" font-size="15" font-weight="bold" font-style="italic" text-anchor="start" fill="#fff" stroke="#fff" stroke-width="6.5" stroke-linejoin="round">(10.4M total)</text><text x="1058.3" y="304.3" font-size="14" font-weight="bold" font-style="normal" text-anchor="start" fill="#fff" stroke="#fff" stroke-width="6.5" stroke-linejoin="round">My Projection</text><text x="1058.3" y="321.7" font-size="14" font-weight="bold" font-style="normal" text-anchor="start" fill="#fff" stroke="#fff" stroke-width="6.5" stroke-linejoin="round">(9.4M via HC.gov)</text><text x="1058.3" y="338" font-size="15" font-weight="bold" font-style="italic" text-anchor="start" fill="#fff" stroke="#fff" stroke-width="6.5" stroke-linejoin="round">HHS Projection</text><text x="1058.3" y="356" font-size="15" font-weight="bold" font-style="italic" text-anchor="start" fill="#fff" stroke="#fff" stroke-width="6.5" stroke-linejoin="round">(9.1M PAID)</text><text x="404.9" y="392.8" font-size="13.85" font-weight="bold" font-style="normal" text-anchor="end" fill="#fff" stroke="#fff" stroke-width="6.5" stroke-linejoin="round">12/16/14 Estimate Nationally</text><text x="406" y="410" font-size="14" font-weight="bold" font-style="normal" text-anchor="end" fill="#fff" stroke="#fff" stroke-width="6.5" stroke-linejoin="round">(8.44M total with autorenewals)</text><text x="390.8" y="697" font-size="13.85" font-weight="bold" font-style="normal" text-anchor="end" fill="#fff" stroke="#fff" stroke-width="6.5" stroke-linejoin="round">12/15/14 Estimate Nationally</text><text x="391.8" y="713.3" font-size="13.9" font-weight="bold" font-style="normal" text-anchor="end" fill="#fff" stroke="#fff" stroke-width="6.5" stroke-linejoin="round">(4.7M total without autorenewals)</text><text x="736.9" y="305" font-size="14" font-weight="bold" font-style="normal" text-anchor="start" fill="#fff" stroke="#fff" stroke-width="6.5" stroke-linejoin="round">1/15/14 Projection</text><text x="736.9" y="322.6" font-size="14" font-weight="bold" font-style="normal" text-anchor="start" fill="#fff" stroke="#fff" stroke-width="6.5" stroke-linejoin="round">(9.50M total)</text><text x="653.4" y="349.4" font-size="14.95" font-weight="bold" font-style="italic" text-anchor="start" fill="#fff" stroke="#fff" stroke-width="6.5" stroke-linejoin="round">9.00M ESTIMATED (50 States+DC)</text><text x="653.4" y="429" font-size="14.95" font-weight="bold" font-style="italic" text-anchor="start" fill="#fff" stroke="#fff" stroke-width="6.5" stroke-linejoin="round">7.92M Est. Paid (50 States+DC)</text><text x="653.4" y="469" font-size="14.95" font-weight="bold" font-style="italic" text-anchor="start" fill="#fff" stroke="#fff" stroke-width="6.5" stroke-linejoin="round">7.56M CONFIRMED (50 States+DC)</text><text x="653.4" y="528.3" font-size="14.95" font-weight="bold" font-style="italic" text-anchor="start" fill="#fff" stroke="#fff" stroke-width="6.5" stroke-linejoin="round">6.69M ESTIMATED (HC.Gov: 37 states)</text><text x="653.4" y="547.8" font-size="14.95" font-weight="bold" font-style="italic" text-anchor="start" fill="#fff" stroke="#fff" stroke-width="6.5" stroke-linejoin="round">6.59M CONFIRMED (HC.Gov: 37 states)</text></g>
<g filter="url(#glowS)"><text x="799.8" y="844.7" font-size="14.95" font-weight="bold" font-style="italic" text-anchor="start" fill="#fff" stroke="#fff" stroke-width="8" stroke-linejoin="round">Estimated Total QHP Selections (All 50 states +DC)</text><text x="799.8" y="891.7" font-size="14.95" font-weight="bold" font-style="italic" text-anchor="start" fill="#fff" stroke="#fff" stroke-width="8" stroke-linejoin="round">Estimated QHPs Paid/Will Pay (All 50 states +DC)</text><text x="799.8" y="937.5" font-size="14.95" font-weight="bold" font-style="italic" text-anchor="start" fill="#fff" stroke="#fff" stroke-width="8" stroke-linejoin="round">CONFIRMED QHP Selections (All 50 states +DC)</text><text x="799.8" y="983.4" font-size="14.95" font-weight="bold" font-style="italic" text-anchor="start" fill="#fff" stroke="#fff" stroke-width="8" stroke-linejoin="round">CONFIRMED QHP Selections (HC.gov; 37 states)</text></g>
<g filter="url(#glowS)"><text x="96.2" y="43.8" font-size="16" font-weight="bold" font-style="normal" text-anchor="start" fill="#fff" stroke="#fff" stroke-width="2.5" stroke-linejoin="round">< 11/15/14</text><text x="96.2" y="62.5" font-size="16" font-weight="bold" font-style="normal" text-anchor="start" fill="#fff" stroke="#fff" stroke-width="2.5" stroke-linejoin="round">Start of 2015 Open Enrollment</text><text x="408.5" y="44.3" font-size="16" font-weight="bold" font-style="normal" text-anchor="start" fill="#fff" stroke="#fff" stroke-width="2.5" stroke-linejoin="round">< 12/15/14</text><text x="408.5" y="63.2" font-size="16" font-weight="bold" font-style="normal" text-anchor="start" fill="#fff" stroke="#fff" stroke-width="2.5" stroke-linejoin="round">Deadline for Jan. 1st coverage</text><text x="719.5" y="75.1" font-size="12" font-weight="bold" font-style="normal" text-anchor="end" fill="#fff" stroke="#fff" stroke-width="2.5" stroke-linejoin="round">1/15/14 ></text><text x="719.5" y="88.7" font-size="12" font-weight="bold" font-style="normal" text-anchor="end" fill="#fff" stroke="#fff" stroke-width="2.5" stroke-linejoin="round">Deadline for Feb. 1st coverage</text><text x="1039.4" y="44.2" font-size="16" font-weight="bold" font-style="normal" text-anchor="end" fill="#fff" stroke="#fff" stroke-width="2.5" stroke-linejoin="round">2/15/15 ></text><text x="1039.4" y="62.9" font-size="16" font-weight="bold" font-style="normal" text-anchor="end" fill="#fff" stroke="#fff" stroke-width="2.5" stroke-linejoin="round">End of 2015 Open Enrollment</text><text x="1039.2" y="77.9" font-size="12" font-weight="bold" font-style="normal" text-anchor="end" fill="#fff" stroke="#fff" stroke-width="2.5" stroke-linejoin="round">Deadline for Mar. 1st coverage</text></g>
<circle cx="403.8" cy="691.7" r="3.6" fill="#0000ff"/>
<circle cx="413.4" cy="387.2" r="3.6" fill="#0000ff"/>
<circle cx="485.6" cy="369.4" r="3.6" fill="#0000ff"/>
<circle cx="727.6" cy="301.4" r="3.6" fill="#0000ff"/>
<circle cx="1051" cy="20.5" r="3.3" fill="#000"/>
<circle cx="1051" cy="60.4" r="3.8" fill="#0000ff"/>
<circle cx="1051" cy="182.4" r="3.8" fill="#0000ff"/>
<circle cx="1051" cy="230.6" r="3.3" fill="#000"/>
<circle cx="1051" cy="311.2" r="3.8" fill="#0000ff"/>
<circle cx="1051" cy="334.5" r="3.3" fill="#000"/>
<text x="96.2" y="43.8" font-size="16" font-weight="bold" font-style="normal" text-anchor="start" fill="#0000ff">< 11/15/14</text><text x="96.2" y="62.5" font-size="16" font-weight="bold" font-style="normal" text-anchor="start" fill="#0000ff">Start of 2015 Open Enrollment</text><text x="408.5" y="44.3" font-size="16" font-weight="bold" font-style="normal" text-anchor="start" fill="#0000ff">< 12/15/14</text><text x="408.5" y="63.2" font-size="16" font-weight="bold" font-style="normal" text-anchor="start" fill="#0000ff">Deadline for Jan. 1st coverage</text><text x="719.5" y="75.1" font-size="12" font-weight="bold" font-style="normal" text-anchor="end" fill="#0000ff">1/15/14 ></text><text x="719.5" y="88.7" font-size="12" font-weight="bold" font-style="normal" text-anchor="end" fill="#0000ff">Deadline for Feb. 1st coverage</text><text x="1039.4" y="44.2" font-size="16" font-weight="bold" font-style="normal" text-anchor="end" fill="#0000ff">2/15/15 ></text><text x="1039.4" y="62.9" font-size="16" font-weight="bold" font-style="normal" text-anchor="end" fill="#0000ff">End of 2015 Open Enrollment</text><text x="1039.2" y="77.9" font-size="12" font-weight="bold" font-style="normal" text-anchor="end" fill="#0000ff">Deadline for Mar. 1st coverage</text><text x="1058.3" y="17.5" font-size="14" font-weight="bold" font-style="normal" text-anchor="start" fill="#000">CBO Projection</text><text x="1058.3" y="35.8" font-size="14" font-weight="bold" font-style="normal" text-anchor="start" fill="#000">(13.0M Avg/Month)</text><text x="1058.3" y="55.8" font-size="14" font-weight="bold" font-style="normal" text-anchor="start" fill="#0000ff">My Projection</text><text x="1058.3" y="72.5" font-size="14" font-weight="bold" font-style="normal" text-anchor="start" fill="#0000ff">(12.5M TOTAL)</text><text x="1058.3" y="177.2" font-size="14" font-weight="bold" font-style="normal" text-anchor="start" fill="#0000ff">My Projection</text><text x="1058.3" y="193.5" font-size="14" font-weight="bold" font-style="normal" text-anchor="start" fill="#0000ff">(11.0M PAID)</text><text x="1058.3" y="226.7" font-size="15" font-weight="bold" font-style="italic" text-anchor="start" fill="#ff0000">HHS Projection</text><text x="1058.3" y="244.6" font-size="15" font-weight="bold" font-style="italic" text-anchor="start" fill="#ff0000">(10.4M total)</text><text x="1058.3" y="304.3" font-size="14" font-weight="bold" font-style="normal" text-anchor="start" fill="#0000ff">My Projection</text><text x="1058.3" y="321.7" font-size="14" font-weight="bold" font-style="normal" text-anchor="start" fill="#0000ff">(9.4M via HC.gov)</text><text x="1058.3" y="338" font-size="15" font-weight="bold" font-style="italic" text-anchor="start" fill="#ff0000">HHS Projection</text><text x="1058.3" y="356" font-size="15" font-weight="bold" font-style="italic" text-anchor="start" fill="#ff0000">(9.1M PAID)</text><text x="112" y="130.4" font-size="27.9" font-weight="bold" font-style="italic" text-anchor="start" fill="#000">ACASignups.net: The 2015 QHP Enrollment Graph</text><text x="112" y="149.8" font-size="15.95" font-weight="bold" font-style="italic" text-anchor="start" fill="#000">w/ACASignups.net projections based on HHS Dept. &amp; ACASignups.net estimates by Charles Gaba w/help from others</text><text x="112" y="190.8" font-size="15.94" font-weight="bold" font-style="italic" text-anchor="start" fill="#000">2/15/15 CBO estimate: 16.2M total, 14.2M paid, 13.5M end of 2015, 13.0M avg/month</text><text x="112" y="209.7" font-size="15.94" font-weight="bold" font-style="italic" text-anchor="start" fill="#0000ff">2/15/15 ACASignups estimate: 12.5M total, 11.0M paid, 10.5M end of 2015, 10.0M avg/month</text><text x="112" y="228.6" font-size="15.94" font-weight="bold" font-style="italic" text-anchor="start" fill="#ff0000">2/15/15 HHS Dept. estimate: 10.4M total, 9.1M paid, 8.6M end of 2015, 8.3M avg/month</text><text x="112" y="272.8" font-size="19.9" font-weight="bold" font-style="italic" text-anchor="start" fill="#138a13">1/07/15 Confirmed Total: 7,565,000</text><text x="441.5" y="272.8" font-size="13.8" font-weight="bold" font-style="italic" text-anchor="start" fill="#138a13">(some states partial)</text><text x="112" y="296.8" font-size="19.9" font-weight="bold" font-style="italic" text-anchor="start" fill="#138a13">1/07/15 Estimated Total: 9,005,000 nationally</text><text x="112" y="310.6" font-size="11.9" font-weight="bold" font-style="italic" text-anchor="start" fill="#138a13">(including autorenewals from CA &amp; NY, etc.)</text><text x="112" y="344.4" font-size="13.95" font-weight="bold" font-style="italic" text-anchor="start" fill="#000">Does not include off-exchange QHPs, Medicaid/CHIP or SHOP</text><text x="404.9" y="392.8" font-size="13.85" font-weight="bold" font-style="normal" text-anchor="end" fill="#0000ff">12/16/14 Estimate Nationally</text><text x="406" y="410" font-size="14" font-weight="bold" font-style="normal" text-anchor="end" fill="#0000ff">(8.44M total with autorenewals)</text><text x="390.8" y="697" font-size="13.85" font-weight="bold" font-style="normal" text-anchor="end" fill="#0000ff">12/15/14 Estimate Nationally</text><text x="391.8" y="713.3" font-size="13.9" font-weight="bold" font-style="normal" text-anchor="end" fill="#0000ff">(4.7M total without autorenewals)</text><text x="736.9" y="305" font-size="14" font-weight="bold" font-style="normal" text-anchor="start" fill="#0000ff">1/15/14 Projection</text><text x="736.9" y="322.6" font-size="14" font-weight="bold" font-style="normal" text-anchor="start" fill="#0000ff">(9.50M total)</text><text x="653.4" y="349.4" font-size="14.95" font-weight="bold" font-style="italic" text-anchor="start" fill="#0000ff">9.00M ESTIMATED (50 States+DC)</text><text x="653.4" y="429" font-size="14.95" font-weight="bold" font-style="italic" text-anchor="start" fill="#0000ff">7.92M Est. Paid (50 States+DC)</text><text x="653.4" y="469" font-size="14.95" font-weight="bold" font-style="italic" text-anchor="start" fill="#138a13">7.56M CONFIRMED (50 States+DC)</text><text x="653.4" y="528.3" font-size="14.95" font-weight="bold" font-style="italic" text-anchor="start" fill="#0000ff">6.69M ESTIMATED (HC.Gov: 37 states)</text><text x="653.4" y="547.8" font-size="14.95" font-weight="bold" font-style="italic" text-anchor="start" fill="#138a13">6.59M CONFIRMED (HC.Gov: 37 states)</text><text x="799.8" y="844.7" font-size="14.95" font-weight="bold" font-style="italic" text-anchor="start" fill="#000">Estimated Total QHP Selections (All 50 states +DC)</text><text x="799.8" y="891.7" font-size="14.95" font-weight="bold" font-style="italic" text-anchor="start" fill="#000">Estimated QHPs Paid/Will Pay (All 50 states +DC)</text><text x="799.8" y="937.5" font-size="14.95" font-weight="bold" font-style="italic" text-anchor="start" fill="#000">CONFIRMED QHP Selections (All 50 states +DC)</text><text x="799.8" y="983.4" font-size="14.95" font-weight="bold" font-style="italic" text-anchor="start" fill="#000">CONFIRMED QHP Selections (HC.gov; 37 states)</text>
<text x="426" y="1057" font-size="20" letter-spacing="0.82" font-weight="bold" fill="#000" stroke="#fff" stroke-width="5" stroke-linejoin="round" paint-order="stroke">© Charles Gaba / ACASignups.net</text>
</svg>
</body></html>
